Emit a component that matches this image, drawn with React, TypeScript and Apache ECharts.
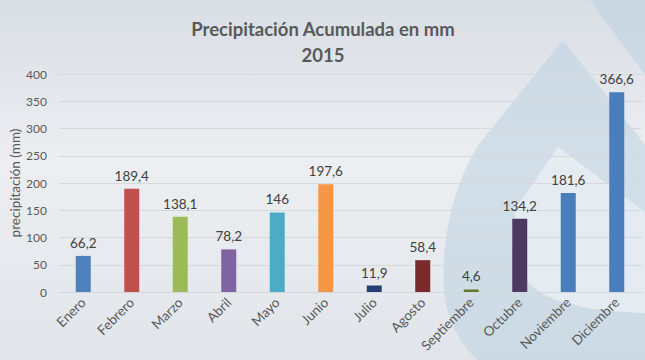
import React, { useEffect, useRef } from "react";
import * as echarts from "echarts";

const months = ["Enero","Febrero","Marzo","Abril","Mayo","Junio","Julio","Agosto","Septiembre","Octubre","Noviembre","Diciembre"];
const precip = [66.2, 189.4, 138.1, 78.2, 146, 197.6, 11.9, 58.4, 4.6, 134.2, 181.6, 366.6];
const barColors = ["#4f81bd","#c0504d","#9bbb59","#8064a2","#4bacc6","#f79646","#243f73","#7a2a28","#5f7a30","#4c3a62","#4a7ebb","#4a7ebb"];
const titleLine1 = "Precipitación Acumulada en mm";
const titleLine2 = "2015";
const yName = "precipitación (mm)";

echarts.graphic.registerShape("dropOuter", echarts.graphic.extendPath("M563,40 L480,143 C455,180 440,240 444,290 C447,320 460,345 478,360 L645,360 L645,145 Z", {}));
echarts.graphic.registerShape("dropInner", echarts.graphic.extendPath("M558,147 L518,205 C505,240 512,278 545,295 C575,310 620,312 645,313 L645,212 Z", {}));
echarts.graphic.registerShape("dropBand", echarts.graphic.extendPath("M590,0 L645,0 L645,75 Z", {}));

export default function App() {
  const ref = useRef<HTMLDivElement>(null);
  useEffect(() => {
    const chart = echarts.init(ref.current!, null, { renderer: "svg" });
    const font = "Lato, 'Open Sans', sans-serif";
    chart.setOption({
      animation: false,
      backgroundColor: {
        type: "linear", x: 0, y: 0, x2: 0, y2: 1,
        colorStops: [
          { offset: 0, color: "#d9dee5" },
          { offset: 0.45, color: "#eceef1" },
          { offset: 1, color: "#e1e5ea" },
        ],
      },
      graphic: [
        { type: "dropOuter", x: 0, y: 0, z: -10, silent: true, style: { fill: "rgba(183,208,223,0.5)" } },
        { type: "dropInner", x: 0, y: 0, z: -9, silent: true, style: { fill: "rgba(238,242,245,0.7)" } },
        { type: "dropBand", x: 0, y: 0, z: -9, silent: true, style: { fill: "rgba(183,208,223,0.5)" } },
        { type: "text", x: 323, y: 29, z: 10, silent: true, style: { text: titleLine1, fill: "#595959", font: "bold 18.5px Lato, 'Open Sans', sans-serif", align: "center", verticalAlign: "middle" } },
        { type: "text", x: 323, y: 55, z: 10, silent: true, style: { text: titleLine2, fill: "#595959", font: "bold 18.5px Lato, 'Open Sans', sans-serif", align: "center", verticalAlign: "middle" } },
      ],
      grid: { left: 59, right: 4, top: 74, bottom: 68, containLabel: false, outerBoundsMode: "none" },
      xAxis: {
        type: "category",
        data: months,
        axisLine: { show: true, lineStyle: { color: "#d3d7dc" } },
        axisTick: { show: false },
        axisLabel: { rotate: 45, color: "#595959", fontFamily: font, fontSize: 13.5, margin: 8, interval: 0 },
      },
      yAxis: {
        type: "value",
        min: 0,
        max: 400,
        interval: 50,
        name: yName,
        nameLocation: "middle",
        nameGap: 37,
        nameMoveOverlap: false,
        nameTextStyle: { color: "#595959", fontFamily: font, fontSize: 13.5 },
        axisLine: { show: false },
        axisTick: { show: false },
        axisLabel: { color: "#595959", fontFamily: font, fontSize: 12, margin: 12 },
        splitLine: { lineStyle: { color: "#d5d9de" } },
      },
      series: [{
        type: "bar",
        data: precip.map((v, i) => ({ value: v, itemStyle: { color: barColors[i] } })),
        barWidth: 15,
        label: {
          show: true,
          position: "top",
          distance: 6,
          color: "#404040",
          fontFamily: font,
          fontSize: 13.5,
          formatter: (p: any) => String(p.value).replace(".", ","),
        },
      }],
    });
    return () => chart.dispose();
  }, []);
  return <div ref={ref} style={{ width: 645, height: 360, position: "absolute", left: 0, top: 0 }} />;
}
